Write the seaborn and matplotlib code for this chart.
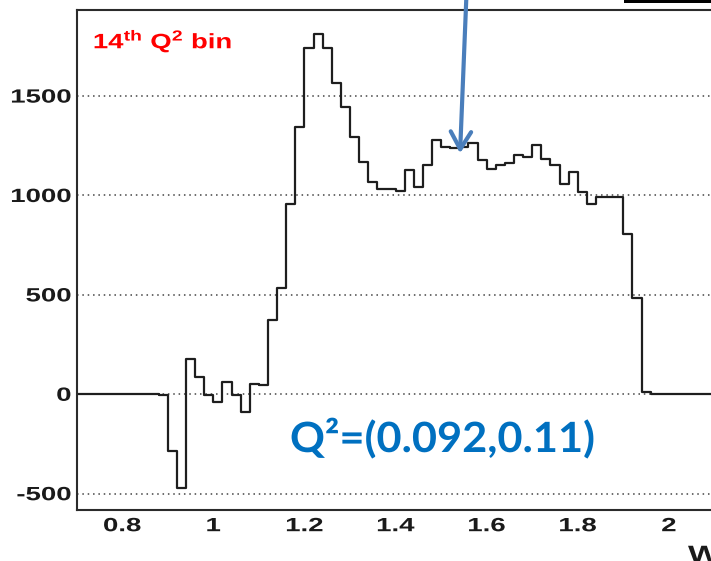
import numpy as np
import pandas as pd
import matplotlib
matplotlib.use("Agg")
import matplotlib.pyplot as plt
import seaborn as sns
from matplotlib.patheffects import AbstractPathEffect
from matplotlib.transforms import Affine2D
from matplotlib.patches import Rectangle
from matplotlib.ticker import MultipleLocator

# ---------------------------------------------------------------------------
# Yield per W bin (GeV), 14th Q^2 bin; regular 0.02 GeV bins starting at 0.70
# ---------------------------------------------------------------------------
w_low = 0.70
bin_width = 0.02
counts = [
    0, 0, 0, 0, 0, 0, 0, 0, 0,                                  # 0.70 - 0.86
    -5, -285, -470, 177, 88, -4, -39, 60, -3, -90,              # 0.88 - 1.06
    53, 45, 373, 534, 957, 1346, 1742, 1811, 1742, 1565,        # 1.08 - 1.26
    1446, 1295, 1166, 1066, 1031, 1031, 1024, 1126, 1044, 1153, # 1.28 - 1.46
    1277, 1245, 1237, 1243, 1264, 1176, 1135, 1154, 1163, 1202, # 1.48 - 1.66
    1195, 1253, 1186, 1154, 1059, 1116, 1016, 957, 990, 990,    # 1.68 - 1.86
    990, 806, 482, 11,                                          # 1.88 - 1.94
    0, 0, 0, 0, 0, 0, 0, 0, 0, 0, 0, 0,                         # 1.96 - 2.18
]

x_ticks = [0.8, 1.0, 1.2, 1.4, 1.6, 1.8, 2.0]
x_tick_labels = ["0.8", "1", "1.2", "1.4", "1.6", "1.8", "2"]
y_ticks = [-500, 0, 500, 1000, 1500]
y_tick_labels = ["-500", "0", "500", "1000", "1500"]

bin_label = r"14$^{\mathbf{th}}$ Q$^{\mathbf{2}}$ bin"
q2_label = "Q\u00b2=(0.092,0.11)"
x_title = "W"

edges = [round(w_low + bin_width * i, 4) for i in range(len(counts) + 1)]
centers = [0.5 * (a + b) for a, b in zip(edges[:-1], edges[1:])]
hist_df = pd.DataFrame({"W": centers, "counts": np.asarray(counts, dtype=float)})


class StretchX(AbstractPathEffect):
    """Widen a text path horizontally about its left/centre/right ink edge."""

    def __init__(self, factor, anchor="center"):
        super().__init__()
        self.factor = factor
        self.anchor = anchor

    def draw_path(self, renderer, gc, tpath, affine, rgbFace=None):
        ext = tpath.get_extents(affine)
        x0 = {"left": ext.x0, "right": ext.x1,
              "center": 0.5 * (ext.x0 + ext.x1)}[self.anchor]
        aff = affine + Affine2D().translate(-x0, 0).scale(self.factor, 1.0).translate(x0, 0)
        renderer.draw_path(gc, tpath, aff, rgbFace)


sns.set_theme(style="white")
plt.rcParams["font.family"] = ["Liberation Sans", "DejaVu Sans"]
plt.rcParams["font.weight"] = "bold"
plt.rcParams["axes.unicode_minus"] = False
plt.rcParams["mathtext.fontset"] = "custom"
plt.rcParams["mathtext.rm"] = "Liberation Sans:bold"
plt.rcParams["mathtext.it"] = "Liberation Sans:bold"
plt.rcParams["mathtext.bf"] = "Liberation Sans:bold"

STRETCH = 1.44
FRAME = "#2b2b2b"

W, H = 711, 561
fig = plt.figure(figsize=(W / 100, H / 100), dpi=100)
fig.patch.set_facecolor("white")

left_px, right_px, top_px, bottom_px = 76.7, 714.4, 10.0, 510.0
ax = fig.add_axes([left_px / W, 1 - bottom_px / H,
                   (right_px - left_px) / W, (bottom_px - top_px) / H])
ax.set_facecolor("white")

sns.histplot(data=hist_df, x="W", weights="counts", bins=edges, element="step",
             fill=False, color="#1e1e1e", linewidth=1.6, ax=ax)

ax.set_xlim(0.70, 2.10)
ax.set_ylim(-582, 1933)
ax.set_xlabel("")
ax.set_ylabel("")

for side in ["left", "bottom", "top", "right"]:
    ax.spines[side].set_visible(True)
    ax.spines[side].set_color(FRAME)
    ax.spines[side].set_linewidth(1.5)

ax.set_xticks(x_ticks, labels=x_tick_labels)
ax.set_yticks(y_ticks, labels=y_tick_labels)
ax.xaxis.set_minor_locator(MultipleLocator(0.05))
ax.yaxis.set_minor_locator(MultipleLocator(100))

ax.tick_params(axis="x", which="major", direction="in", length=11.3, width=1.3,
               color=FRAME, labelsize=13.8, pad=5.9, top=False)
ax.tick_params(axis="x", which="minor", direction="in", length=5.3, width=1.3,
               color=FRAME, top=False)
ax.tick_params(axis="y", which="major", direction="in", length=14.4, width=1.3,
               color=FRAME, labelsize=13.8, pad=4.0, right=False)
ax.tick_params(axis="y", which="minor", direction="in", length=7.7, width=1.3,
               color=FRAME, right=False)

ax.yaxis.grid(True, which="major", linestyle=(0, (1, 2.5)), linewidth=1.1, color="#444444")
ax.xaxis.grid(False)
ax.set_axisbelow(True)

for lbl in ax.get_xticklabels():
    lbl.set_path_effects([StretchX(STRETCH, "center")])
    lbl.set_color("#1a1a1a")
for lbl in ax.get_yticklabels():
    lbl.set_path_effects([StretchX(STRETCH, "right")])
    lbl.set_color("#1a1a1a")

# Bin caption in the upper left corner
fig.text(93.3 / W, 1 - 48.3 / H, bin_label, color="#ff0000", fontsize=15,
         fontweight="bold", ha="left", va="baseline",
         path_effects=[StretchX(1.32, "left")])

# Axis title at the right end of the W axis
fig.text(688 / W, 1 - 562 / H, x_title, color="#1a1a1a", fontsize=17,
         fontweight="bold", ha="left", va="baseline",
         path_effects=[StretchX(STRETCH, "left")])

# Q^2 range of this bin
fig.text(290 / W, 1 - 452 / H, q2_label, color="#0070c0", fontsize=30,
         family="Lato", fontweight="bold", ha="left", va="baseline",
         path_effects=[StretchX(1.04, "left")])

# Arrow pointing at the dip in the second resonance region
ax.annotate("", xy=(1.5416, 1212), xytext=(1.5554, 1995),
            arrowprops=dict(arrowstyle="->,head_length=0.6,head_width=0.35",
                            lw=3.0, color="#4a7ebb", mutation_scale=21,
                            shrinkA=0, shrinkB=0),
            annotation_clip=False)

# Edge of the statistics box above the frame
fig.add_artist(Rectangle((624 / W, 1 - 3.3 / H), (W - 624) / W, 3.3 / H,
                         transform=fig.transFigure, color="black", lw=0))

fig.savefig("out.png", dpi=100, facecolor="white")
